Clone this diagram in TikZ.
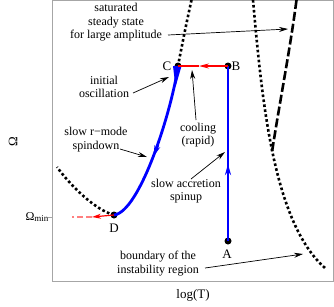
\documentclass[tikz,border=0pt]{standalone}
\usepackage{fontspec}
\setmainfont{Liberation Serif}
\usetikzlibrary{arrows.meta}
\begin{document}
\begin{tikzpicture}[x=1pt,y=-1pt,
  lbl/.style={font=\fontsize{12}{13.5}\selectfont, align=center, inner sep=0pt},
  ptlbl/.style={font=\fontsize{13}{14}\selectfont, inner sep=0pt},
  pt/.style={circle, fill=black, inner sep=0pt, minimum size=7pt},
  note/.style={-{Stealth[length=9pt,width=5pt]}, line width=0.7pt},
  bnd/.style={line width=2.6pt, dash pattern=on 2.6pt off 2.4pt},
  sat/.style={line width=2.6pt, dash pattern=on 9pt off 3pt},
  track/.style={blue, line width=2.8pt},
  trackarrow/.style={blue, line width=2.8pt, -{Stealth[length=11pt,width=6pt]}},
  redline/.style={red, line width=1.2pt}
]
\useasboundingbox (0,0) rectangle (334,306);
% frame
\draw[gray!70, line width=0.9pt] (52,0.5) rectangle (333,281);
\draw[gray!70, line width=0.9pt] (48,217) -- (52,217);

% key points
\node[pt] (A) at (228,241) {};
\node[pt] (B) at (228,66) {};
\node[pt] (C) at (178,66) {};
\node[pt] (D) at (114,215) {};

% boundary curves
\coordinate (ltop) at (191.5,0);
\coordinate (lend) at (57,167);
\coordinate (rtop) at (253,0);
\coordinate (rend) at (325,268);
\coordinate (stop) at (296.5,0);
\coordinate (sbot) at (272,152);
\draw[bnd] (ltop) .. controls (186,25) and (182,45) .. (C.center);
\draw[bnd] (D.center) .. controls (95,210) and (70,185) .. (lend);
\draw[bnd] (rtop) .. controls (262,100) and (273,222) .. (rend);
\draw[sat] (stop) .. controls (290,50) and (280,100) .. (sbot);

% evolution track
\draw[track] (A.center) -- (B.center);
\coordinate (up1) at (228,180);
\coordinate (up2) at (228,164);
\draw[trackarrow] (up1) -- (up2);
\draw[track] (C.center) .. controls (172,110) and (140,212) .. (D.center);
\coordinate (dn1) at (157.8,145);
\coordinate (dn2) at (153.5,156.5);
\draw[trackarrow] (dn1) -- (dn2);
\fill[blue] (173,66) -- (181.5,66) -- (175.5,87) -- cycle;
\coordinate (rmid) at (199,66);
\draw[redline, -{Stealth[length=10pt,width=5pt]}] (B.center) -- (rmid);
\draw[redline] (rmid) -- (C.center);
\coordinate (Dleft) at (92,217);
\coordinate (fadeend) at (72,217);
\draw[redline, -{Stealth[length=9pt,width=5pt]}] (D.center) -- (Dleft);
\draw[red, opacity=0.5, line width=1.2pt, dash pattern=on 6pt off 3pt] (Dleft) -- (fadeend);

% point labels
\node[ptlbl] (Cl) at (167,66) {C};
\node[ptlbl] (Bl) at (236,66) {B};
\node[ptlbl] (Dl) at (114,228) {D};
\node[ptlbl] (Al) at (227,254) {A};

% annotations
\node[lbl] (tsat) at (116,22.5) {saturated\\steady state\\for large amplitude};
\node[lbl] (tinit) at (104,87) {initial\\oscillation};
\node[lbl] (tspin) at (96,139.5) {slow r−mode\\spindown};
\node[lbl] (tcool) at (198,135) {cooling\\(rapid)};
\node[lbl] (tacc) at (186,191) {slow accretion\\spinup};
\node[lbl] (tbnd) at (158,263.5) {boundary of the\\instability region};

\coordinate (sat1) at (168,35);  \coordinate (sat2) at (288,29);
\coordinate (ini1) at (133,93);  \coordinate (ini2) at (169,77);
\coordinate (spd1) at (120,149); \coordinate (spd2) at (147,157);
\coordinate (col1) at (196,120); \coordinate (col2) at (192,70);
\coordinate (acc1) at (191,179); \coordinate (acc2) at (225,152);
\coordinate (bnd1) at (205,268); \coordinate (bnd2) at (303,254);
\draw[note] (sat1) -- (sat2);
\draw[note] (ini1) -- (ini2);
\draw[note] (spd1) -- (spd2);
\draw[note] (col1) -- (col2);
\draw[note] (acc1) -- (acc2);
\draw[note] (bnd1) -- (bnd2);

% axes labels
\node[ptlbl, rotate=90] (yl) at (13,142) {Ω};
\node[ptlbl] (xl) at (193,295) {log(T)};
\node[lbl] (omin) at (37,217) {Ω\raisebox{-0.35ex}{\fontsize{9}{10}\selectfont min}};
\end{tikzpicture}
\end{document}
